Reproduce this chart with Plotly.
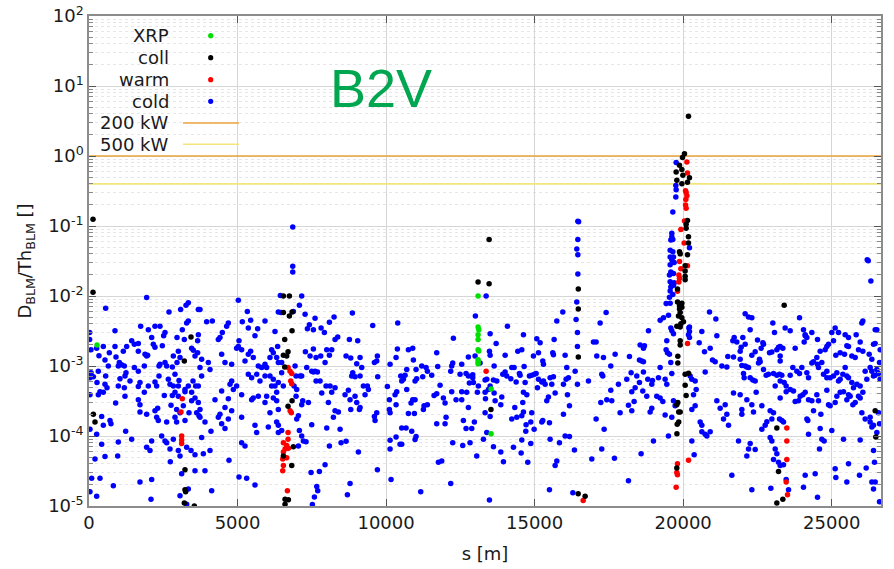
import plotly.graph_objects as go

# ---------------------------------------------------------------------------
# BLM signal over threshold vs. longitudinal position, beam 2 vertical (B2V)
# each entry: (s [m], D_BLM / Th_BLM)
# ---------------------------------------------------------------------------
S_MAX = 26659

cold = [
    # IR1 -> IR2 arc region (0 - 6.6 km)
    (22, 3.0e-3), (22, 2.4e-3), (67, 1.7e-3), (258, 1.8e-3), (336, 1.4e-3), (482, 1.9e-3),
    (684, 1.55e-3), (875, 1.9e-3), (1155, 1.63e-3), (1268, 1.9e-3), (1436, 2.3e-3), (1526, 2.05e-3),
    (1660, 2.1e-3), (1660, 1.63e-3), (1885, 1.47e-3), (1974, 1.43e-3), (2109, 2.55e-3), (2165, 2.05e-3),
    (2221, 1.85e-3), (2468, 1.95e-3), (1941, 9.5e-3), (5026, 8.7e-3), (561, 6.7e-3), (3343, 8.0e-3),
    (3265, 7.4e-3), (3085, 6.4e-3), (3680, 6.4e-3), (3736, 6.4e-3), (2693, 5.9e-3), (5329, 6.0e-3),
    (6440, 1.02e-2), (875, 3.2e-3), (1739, 3.7e-3), (1997, 3.3e-3), (2221, 3.7e-3), (2390, 3.7e-3),
    (2558, 3.0e-3), (2513, 2.7e-3), (3343, 4.4e-3), (3287, 4.1e-3), (3960, 4.3e-3), (4151, 4.4e-3),
    (4690, 4.1e-3), (4634, 3.7e-3), (4488, 3.0e-3), (4409, 2.55e-3), (5441, 4.5e-3), (5161, 4.3e-3),
    (5363, 3.5e-3), (5677, 3.4e-3), (5924, 4.4e-3), (6260, 3.1e-3), (6373, 5.9e-3), (6462, 5.8e-3),
    (3141, 3.3e-3), (2962, 2.55e-3), (3209, 2.4e-3), (3680, 2.8e-3), (3657, 2.3e-3),
    (908, 1.35e-3), (1021, 1.12e-3), (1099, 1.04e-3), (1189, 1.0e-3), (987, 1.0e-3), (538, 1.22e-3),
    (650, 1.0e-3), (314, 8.4e-4), (67, 8.0e-4), (146, 7.0e-4), (33, 6.8e-4), (561, 7.2e-4),
    (269, 5.8e-4), (538, 5.5e-4), (606, 4.9e-4), (370, 4.3e-4), (314, 3.9e-4), (482, 4.2e-4),
    (33, 3.9e-4), (1245, 8.0e-4), (1211, 7.2e-4), (1043, 6.6e-4), (987, 5.2e-4), (1189, 4.9e-4),
    (1211, 3.7e-4), (1380, 6.1e-4), (1526, 9.5e-4), (1660, 8.4e-4), (1862, 1.0e-3), (1941, 1.39e-3),
    (1716, 5.8e-4), (1660, 5.1e-4), (1862, 4.2e-4), (1997, 5.2e-4), (2221, 5.9e-4), (2277, 5.2e-4),
    (2356, 7.2e-4), (2390, 1.06e-3), (2558, 1.12e-3), (2614, 1.0e-3), (2535, 3.8e-4), (2356, 1.0e-3),
    (2838, 1.39e-3), (3007, 1.63e-3), (3063, 1.32e-3), (2962, 1.12e-3), (2805, 9.7e-4), (2894, 7.6e-4),
    (3029, 6.2e-4), (2838, 5.2e-4), (3007, 5.2e-4), (3231, 4.6e-4), (2894, 4.2e-4), (2805, 3.8e-4),
    (3007, 3.7e-4), (2726, 5.5e-4), (2670, 6.45e-4), (3455, 1.8e-3), (3512, 1.68e-3), (3568, 1.39e-3),
    (3657, 1.55e-3), (3792, 1.25e-3), (3736, 9.5e-4), (4016, 1.12e-3), (4073, 8.9e-4), (3792, 7.2e-4),
    (3680, 5.2e-4), (3590, 5.2e-4), (3500, 6.1e-4), (3343, 5.2e-4), (3231, 4.3e-4), (3455, 4.2e-4),
    (3568, 3.5e-4), (3455, 3.2e-4), (3175, 2.7e-4), (2950, 2.4e-4), (3063, 2.15e-4), (2760, 2.75e-4),
    (3680, 3.0e-4), (3736, 2.4e-4), (3624, 2.15e-4), (3702, 1.95e-4), (3904, 1.58e-4), (3736, 1.85e-4),
    (1660, 3.3e-4), (1716, 2.8e-4), (1716, 2.2e-4), (1941, 2.05e-4), (2221, 2.3e-4), (2311, 2.5e-4),
    (2277, 1.85e-4), (2333, 1.67e-4), (2614, 1.58e-4), (2894, 1.85e-4), (2950, 1.58e-4), (3231, 1.67e-4),
    (3366, 2.15e-4), (897, 2.95e-4), (707, 1.67e-4), (740, 1.5e-4), (426, 1.9e-4), (482, 1.43e-4),
    (33, 1.25e-4), (258, 1.06e-4), (1234, 1.17e-4), (2446, 1.0e-4), (2558, 8.5e-5), (2614, 8.0e-5),
    (2838, 9.0e-5), (2726, 6.5e-5), (3007, 6.2e-5), (3063, 5.2e-5), (3287, 6.9e-5), (3433, 6.2e-5),
    (3568, 5.4e-5), (3848, 5.6e-5), (3792, 9.5e-5), (4073, 6.2e-5), (4106, 1.17e-4), (4353, 1.85e-4),
    (4409, 2.05e-4), (4465, 1.5e-4), (4577, 1.28e-4), (4241, 3.3e-4), (4465, 4.4e-4), (4690, 3.4e-4),
    (4577, 2.55e-4), (4802, 2.3e-4), (5138, 3.9e-4), (4970, 5.2e-4), (4858, 4.6e-4), (4746, 5.5e-4),
    (2109, 8.5e-5), (1941, 6.9e-5), (2053, 6.2e-5), (1436, 9.0e-5), (987, 8.2e-5), (426, 7.6e-5),
    (202, 4.7e-5), (538, 5.1e-5), (965, 5.2e-5), (89, 2.5e-5), (370, 2.5e-5), (819, 1.95e-5),
    (33, 1.6e-5), (258, 1.38e-5), (1716, 2.2e-5), (2109, 2.4e-5), (2087, 1.25e-5), (2737, 4.3e-5),
    (3119, 2.9e-5), (3063, 1.4e-5), (3343, 1.75e-5), (4129, 1.65e-5), (3568, 3.2e-5), (3904, 3.2e-5),
    (4712, 4.5e-5), (5049, 2.6e-5), (5307, 2.5e-5), (5587, 2.0e-5), (3287, 1.06e-5),
    (4353, 2.4e-3), (4465, 1.47e-3), (4577, 1.12e-3), (4802, 1.06e-3), (4802, 6.1e-4), (4970, 1.8e-3),
    (5026, 1.9e-3), (5049, 2.3e-3), (5138, 1.7e-3), (5251, 1.18e-3), (5363, 1.47e-3), (5441, 1.63e-3),
    (5531, 1.32e-3), (5587, 2.7e-3), (5699, 1.0e-3), (5812, 9.5e-4), (5924, 1.06e-3), (5980, 9.5e-4),
    (6092, 1.32e-3), (6148, 1.7e-3), (6204, 1.55e-3), (6350, 1.9e-3), (6317, 1.32e-3), (6373, 1.12e-3),
    (6485, 1.12e-3), (5363, 7.6e-4), (5475, 6.8e-4), (5643, 7.6e-4), (5755, 6.1e-4), (5924, 7.2e-4),
    (6092, 7.2e-4), (6204, 6.45e-4), (6260, 5.2e-4), (6373, 5.8e-4), (6148, 5.2e-4), (6317, 4.2e-4),
    (6485, 8.0e-4), (6541, 5.2e-4), (5531, 3.5e-4), (5699, 3.7e-4), (5980, 3.7e-4), (6204, 3.5e-4),
    (6317, 3.2e-4), (6373, 2.4e-4), (6092, 2.15e-4), (5924, 3.0e-4), (5138, 1.85e-4), (4690, 1.75e-4),
    (5475, 3.3e-4), (5587, 1.43e-4), (5643, 1.12e-4), (6036, 1.35e-4), (6317, 1.58e-4), (6373, 1.43e-4),
    (6373, 1.12e-4), (6485, 1.2e-4), (5251, 7.2e-5), (5138, 8.0e-5),
    # IR2 region and arc towards IR3 (6.6 - 13.2 km)
    (6858, 9.7e-2), (6858, 2.65e-2), (6858, 2.2e-2),
    (7160, 1.0e-2), (7082, 7.4e-3), (6880, 6.0e-3), (7273, 5.5e-3), (7351, 3.4e-3), (7553, 3.3e-3),
    (7418, 3.9e-3), (7609, 4.8e-3), (7811, 3.5e-3), (7923, 3.0e-3), (8092, 4.2e-3), (8249, 5.0e-3),
    (8282, 2.4e-3), (8372, 2.6e-3), (8866, 5.7e-3), (8765, 2.4e-3), (9045, 2.3e-3), (9550, 3.8e-3),
    (10392, 4.1e-3), (6936, 1.0e-3), (6970, 7.2e-4), (6902, 5.2e-4), (6992, 4.6e-4), (6970, 3.7e-4),
    (7104, 7.2e-4), (7160, 7.2e-4), (7194, 3.2e-4), (7160, 2.8e-4), (7048, 1.95e-4), (6992, 1.75e-4),
    (7082, 1.2e-4), (7160, 1.0e-4), (7216, 8.5e-5), (7306, 8.3e-5), (7048, 7.2e-5), (7385, 3.0e-4),
    (7497, 1.45e-4), (7329, 9.5e-4), (7497, 8.4e-4), (7553, 8.2e-4), (7609, 8.4e-4), (7688, 8.2e-4),
    (7643, 6.1e-4), (7777, 6.1e-4), (7834, 4.1e-4), (7979, 5.2e-4), (8114, 5.2e-4), (8170, 4.2e-4),
    (8058, 3.0e-4), (8282, 4.9e-4), (8226, 1.85e-4), (8395, 2.2e-4), (8282, 2.3e-4), (8451, 1.25e-4),
    (8002, 1.3e-4), (7284, 1.6e-3), (7441, 1.39e-3), (7553, 1.75e-3), (7643, 1.32e-3), (7800, 1.39e-3),
    (7946, 1.12e-3), (8092, 1.43e-3), (8170, 1.7e-3), (8002, 1.7e-3), (8653, 1.39e-3), (8810, 1.3e-3),
    (9124, 1.32e-3), (9012, 1.08e-3), (9180, 9.5e-4), (8877, 8.0e-4), (8843, 7.2e-4), (8955, 7.0e-4),
    (9124, 7.2e-4), (9236, 5.2e-4), (9371, 5.2e-4), (9404, 4.6e-4), (9292, 3.9e-4), (9606, 1.12e-3),
    (9707, 1.39e-3), (9685, 1.18e-3), (9718, 7.0e-4), (9685, 2.15e-4), (9606, 1.9e-4), (9629, 1.67e-4),
    (8619, 3.9e-4), (8731, 4.5e-4), (8787, 3.3e-4), (8955, 3.7e-4), (9012, 3.0e-4), (9124, 2.55e-4),
    (9101, 2.4e-4), (8810, 2.4e-4), (8484, 8.0e-5), (8653, 8.4e-5), (8092, 7.2e-5), (9068, 5.9e-5),
    (7946, 3.9e-5), (7755, 3.1e-5), (7474, 3.0e-5), (7665, 1.9e-5), (7699, 1.65e-5), (7587, 1.35e-5),
    (7519, 1.05e-5), (8787, 2.1e-5), (8698, 1.45e-5), (9707, 3.3e-5),
    (10044, 5.1e-4), (10134, 1.06e-3), (10111, 3.3e-4), (10302, 3.9e-4), (10358, 4.3e-4), (10336, 2.8e-4),
    (10380, 1.75e-3), (10336, 1.32e-3), (10751, 1.7e-3), (10897, 1.8e-3), (10919, 1.22e-3), (10493, 7.2e-4),
    (10582, 6.45e-4), (10639, 7.4e-4), (10695, 8.9e-4), (10526, 6.1e-4), (10975, 6.1e-4), (11031, 6.6e-4),
    (11009, 8.9e-4), (11200, 1.0e-3), (11345, 9.5e-4), (11390, 8.4e-4), (11233, 7.0e-4), (11536, 7.4e-4),
    (11704, 1.55e-3), (11817, 5.3e-4), (11738, 9.8e-4), (12209, 1.0e-3), (12243, 1.1e-3), (12176, 8.4e-4),
    (12490, 7.6e-4), (12692, 7.8e-4), (12770, 7.2e-4), (12916, 7.5e-4), (12939, 5.8e-4), (12804, 5.7e-4),
    (12546, 1.06e-3), (12770, 1.35e-3), (12995, 1.39e-3), (13163, 1.1e-3), (12265, 2.5e-3), (13006, 5.2e-3),
    (10695, 4.6e-4), (10897, 3.3e-4), (10975, 3.3e-4), (10840, 2.95e-4), (10751, 2.1e-4), (10953, 2.1e-4),
    (11278, 2.7e-4), (11256, 2.4e-4), (11390, 2.8e-4), (11615, 3.8e-4), (11704, 4.0e-4), (11929, 3.5e-4),
    (11985, 2.95e-4), (12209, 4.3e-4), (12355, 3.3e-4), (12546, 3.3e-4), (12546, 4.3e-4), (12714, 4.2e-4),
    (12770, 2.55e-4), (13073, 4.2e-4), (13107, 5.2e-4), (12916, 6.8e-4), (10111, 2.4e-4), (10134, 2.15e-4),
    (10526, 1.3e-4), (10672, 1.3e-4), (10863, 1.17e-4), (11009, 9.8e-5), (10975, 8.9e-5), (10336, 9.7e-5),
    (10470, 7.6e-5), (10526, 7.6e-5), (10134, 8.7e-5), (10134, 6.5e-5), (11761, 4.2e-5), (11873, 4.4e-5),
    (11985, 1.5e-4), (12019, 1.85e-4), (11704, 1.5e-4), (12602, 1.67e-4), (12692, 1.28e-4), (12883, 1.28e-4),
    (12972, 1.58e-4), (13051, 5.2e-5), (12826, 8.0e-5), (12580, 7.3e-5), (12243, 8.0e-5), (12176, 2.1e-5),
    (11166, 1.6e-5), (10167, 2.4e-5),
    # IR3 -> IR5 (13.2 - 19.8 km)
    (13367, 1.0e-2), (13502, 2.9e-3), (13704, 2.1e-3), (13479, 1.63e-3), (13502, 1.43e-3), (13636, 1.0e-3),
    (13333, 6.3e-4), (13389, 6.45e-4), (13614, 6.3e-4), (13726, 6.1e-4), (13502, 5.2e-4), (13446, 4.6e-4),
    (13333, 4.2e-4), (13636, 4.1e-4), (13670, 3.2e-4), (13345, 3.4e-4), (13894, 3.6e-4), (13861, 2.8e-4),
    (13928, 7.6e-4), (14007, 8.2e-4), (14063, 7.2e-4), (14197, 6.6e-4), (14231, 9.5e-4), (14309, 9.5e-4),
    (14377, 5.9e-4), (14489, 7.8e-4), (14511, 7.4e-4), (14646, 9.8e-4), (14680, 5.8e-4), (14624, 4.2e-4),
    (14601, 3.0e-4), (14736, 3.9e-4), (14826, 7.2e-4), (14904, 7.4e-4), (14994, 7.6e-4), (15050, 7.8e-4),
    (15095, 4.9e-4), (15129, 6.45e-4), (15241, 5.9e-4), (15297, 6.1e-4), (15353, 5.5e-4), (15409, 3.2e-4),
    (15465, 3.6e-4), (15521, 6.8e-4), (15577, 5.5e-4), (15633, 7.0e-4), (15690, 4.1e-4), (15656, 2.4e-3),
    (15746, 4.4e-3), (15948, 5.9e-3), (16026, 1.43e-3), (16082, 9.5e-4), (16060, 6.45e-4), (15970, 5.5e-4),
    (16138, 6.8e-4), (16105, 3.9e-4), (16172, 2.7e-4), (15970, 2.05e-4), (16363, 8.4e-4), (16441, 5.5e-4),
    (16396, 4.6e-3), (16441, 3.0e-3), (16441, 1.9e-3), (16419, 8.2e-3), (14085, 3.7e-3), (14624, 2.8e-3),
    (14433, 1.63e-3), (14568, 1.7e-3), (14007, 1.43e-3), (14960, 1.39e-3), (15129, 1.55e-3), (15072, 2.45e-3),
    (15185, 2.15e-3), (15274, 1.18e-3), (15297, 1.06e-3), (15611, 1.55e-3), (15633, 1.45e-3),
    (13333, 2.15e-4), (13502, 1.9e-4), (13389, 1.12e-4), (13277, 9.0e-5), (13614, 7.0e-5), (13861, 5.9e-5),
    (13950, 4.3e-5), (14287, 6.9e-5), (14332, 2.55e-4), (14231, 1.75e-4), (14399, 1.85e-4), (14568, 1.95e-4),
    (14568, 8.8e-5), (14624, 2.2e-4), (14713, 1.45e-4), (14702, 1.17e-4), (14904, 2.15e-4), (14870, 1.58e-4),
    (14983, 1.25e-4), (14870, 7.8e-5), (14769, 4.2e-5), (14545, 5.7e-5), (15241, 1.58e-4), (15274, 1.67e-4),
    (15499, 1.55e-4), (15521, 9.0e-5), (15835, 8.0e-5), (16026, 1.0e-4), (16172, 9.8e-5), (16340, 6.3e-5),
    (15746, 4.4e-5), (15690, 3.8e-5), (15499, 1.7e-5), (13479, 1.22e-5),
    (16455, 1.17e-1), (16480, 1.15e-1), (16455, 6.4e-2), (16420, 4.7e-2), (16455, 3.9e-2), (16455, 2.06e-2),
    (16286, 1.55e-5),
    (16812, 6.1e-4), (16980, 2.2e-3), (17069, 2.2e-3), (17092, 1.39e-3), (17204, 4.1e-3), (17317, 1.32e-3),
    (17406, 5.8e-3), (17260, 7.6e-4), (17294, 7.2e-4), (17227, 3.0e-4), (17069, 1.75e-4), (17339, 1.25e-4),
    (17429, 3.3e-4), (17597, 3.2e-4), (17563, 1.0e-3), (17563, 4.5e-4), (17709, 1.47e-3), (17821, 5.5e-4),
    (17877, 2.15e-4), (18102, 6.45e-4), (18192, 1.37e-3), (18248, 8.0e-4), (18270, 4.3e-4), (18158, 2.75e-4),
    (18270, 2.3e-4), (18349, 3.1e-4), (18383, 4.9e-4), (18438, 7.2e-4), (18528, 1.22e-3), (18663, 1.15e-3),
    (18607, 1.18e-3), (18528, 5.8e-4), (18640, 4.4e-4), (18663, 8.2e-4), (18775, 3.7e-4), (18809, 6.45e-4),
    (18966, 6.2e-4), (18943, 5.5e-4), (18943, 2.5e-4), (18887, 2.2e-4), (19112, 3.7e-4), (19224, 3.5e-4),
    (19168, 6.8e-4), (19224, 9.5e-4), (19392, 6.45e-4), (19314, 3.1e-4), (19392, 2.0e-4), (19448, 5.5e-4),
    (19617, 7.8e-4), (19673, 3.2e-4), (19729, 2.7e-4), (19617, 1.85e-4), (19504, 1.0e-4), (19000, 8.5e-5),
    (18584, 5.6e-5), (18158, 2.3e-5), (17687, 4.8e-5), (16924, 4.7e-5), (17260, 6.5e-5), (18663, 1.8e-3),
    (18551, 2.0e-3), (18696, 1.95e-3), (19426, 1.7e-3), (19471, 1.55e-3), (19538, 1.47e-3), (19583, 1.12e-3),
    (19448, 2.3e-3),
    # IR5 loss spike
    (19764, 8.1e-1), (19753, 3.8e-1), (19764, 3.3e-1), (19753, 2.6e-1), (19652, 1.58e-1), (19618, 7.9e-2),
    (19618, 7.0e-2), (19584, 6.3e-2), (19652, 6.4e-2), (20212, 4.9e-2), (19562, 4.5e-2), (19652, 4.3e-2),
    (19562, 3.6e-2), (19674, 3.6e-2), (19618, 3.3e-2), (19697, 3.0e-2), (19562, 2.8e-2), (19584, 2.2e-2),
    (19674, 2.1e-2), (19539, 2.0e-2), (19562, 1.6e-2), (19697, 1.55e-2), (19618, 1.48e-2), (19584, 1.34e-2),
    (19674, 1.42e-2), (19562, 1.18e-2), (19652, 1.05e-2), (19539, 9.6e-3), (19427, 7.8e-3), (19562, 7.9e-3),
    (19618, 3.2e-3), (19674, 2.9e-3), (19225, 4.5e-3), (19337, 4.9e-3), (18832, 3.2e-3), (20212, 3.6e-3),
    (20212, 3.1e-3), (20178, 2.8e-3), (19584, 3.5e-3), (19506, 5.3e-3),
    # IR5 -> IR1 (19.9 - 26.7 km)
    (20886, 5.9e-3), (21100, 4.7e-3), (22087, 5.6e-3), (22199, 5.0e-3), (22311, 4.9e-3), (22255, 3.3e-3),
    (23018, 4.1e-3), (23074, 3.0e-3), (23433, 3.5e-3), (23602, 3.2e-3), (23916, 4.9e-3), (24050, 3.3e-3),
    (24107, 2.8e-3), (24331, 3.0e-3), (24522, 2.4e-3), (25004, 3.0e-3), (25116, 3.5e-3), (25229, 3.0e-3),
    (25453, 2.8e-3), (25565, 2.55e-3), (26048, 4.4e-3), (26014, 4.1e-3), (25823, 2.8e-3), (26463, 3.3e-3),
    (26519, 3.3e-3), (20191, 3.5e-3), (20213, 2.55e-3), (20628, 3.1e-3), (20539, 2.15e-3), (20718, 1.6e-3),
    (20909, 1.8e-3), (21133, 2.7e-3), (21672, 2.3e-3), (21717, 2.55e-3), (21806, 2.2e-3), (21952, 1.85e-3),
    (21919, 1.63e-3), (22008, 2.55e-3), (22087, 2.05e-3), (22502, 2.35e-3), (22682, 2.15e-3), (22704, 2.05e-3),
    (22625, 1.8e-3), (22424, 1.6e-3), (22311, 1.43e-3), (22569, 1.25e-3), (22906, 1.55e-3), (22985, 1.58e-3),
    (23153, 1.7e-3), (23209, 1.85e-3), (23265, 1.9e-3), (23355, 1.8e-3), (23265, 1.39e-3), (23265, 1.18e-3),
    (23770, 1.8e-3), (24073, 2.2e-3), (24107, 2.7e-3), (24163, 2.55e-3), (24499, 1.32e-3), (24611, 1.63e-3),
    (24780, 1.7e-3), (24836, 1.9e-3), (24892, 2.05e-3), (25060, 2.3e-3), (25139, 1.43e-3), (25285, 1.55e-3),
    (25431, 1.47e-3), (25509, 1.95e-3), (25565, 1.9e-3), (25677, 1.39e-3), (25790, 1.32e-3), (25902, 1.7e-3),
    (25958, 2.2e-3), (26048, 1.63e-3), (26261, 1.47e-3), (26351, 1.25e-3), (26407, 2.05e-3), (26463, 2.1e-3),
    (26631, 1.7e-3), (20236, 7.2e-4), (20292, 6.45e-4), (20404, 6.1e-4), (20438, 4.6e-4), (20348, 3.9e-4),
    (20292, 2.4e-4), (20404, 2.7e-4), (20741, 8.2e-4), (20987, 1.22e-3), (21077, 1.15e-3), (21302, 1.0e-3),
    (21470, 9.7e-4), (21503, 1.37e-3), (21694, 1.35e-3), (21919, 1.25e-3), (21975, 1.02e-3), (22087, 1.0e-3),
    (22143, 9.7e-4), (22199, 9.5e-4), (22031, 7.8e-4), (22053, 6.8e-4), (22255, 6.8e-4), (22345, 6.3e-4),
    (22424, 6.1e-4), (22536, 1.1e-3), (22592, 1.15e-3), (22704, 8.9e-4), (22794, 7.4e-4), (22872, 7.6e-4),
    (23041, 7.8e-4), (23153, 7.4e-4), (23243, 7.6e-4), (23321, 7.4e-4), (23265, 6.1e-4), (23400, 5.8e-4),
    (23467, 5.2e-4), (23602, 7.4e-4), (23691, 9.5e-4), (23826, 8.4e-4), (23916, 7.8e-4), (23994, 9.5e-4),
    (24163, 8.0e-4), (24219, 6.8e-4), (24331, 1.1e-3), (24387, 1.15e-3), (24522, 1.06e-3), (24555, 9.5e-4),
    (24667, 1.12e-3), (24724, 7.6e-4), (24836, 8.4e-4), (24836, 6.8e-4), (24948, 6.8e-4), (25060, 7.2e-4),
    (25172, 8.0e-4), (25229, 6.1e-4), (25285, 6.45e-4), (25374, 7.6e-4), (25453, 9.5e-4), (25509, 7.2e-4),
    (25565, 6.8e-4), (25677, 5.8e-4), (25733, 4.9e-4), (25846, 5.5e-4), (25958, 5.2e-4), (26048, 4.2e-4),
    (26126, 8.4e-4), (26182, 6.45e-4), (26294, 9.5e-4), (26351, 8.4e-4), (26407, 7.2e-4), (26463, 7.4e-4),
    (26519, 8.9e-4), (26575, 7.8e-4), (26609, 1.12e-3), (26631, 6.45e-4), (21133, 3.2e-4), (21245, 2.5e-4),
    (21414, 2.8e-4), (21470, 2.05e-4), (21694, 4.1e-4), (21919, 3.9e-4), (21975, 2.4e-4), (21975, 2.05e-4),
    (22143, 3.3e-4), (22311, 2.8e-4), (22367, 2.2e-4), (22457, 4.2e-4), (22648, 2.7e-4), (22760, 1.43e-4),
    (22816, 1.6e-4), (22928, 2.3e-4), (22985, 1.75e-4), (23041, 2.15e-4), (23097, 5.2e-4), (23265, 3.5e-4),
    (23243, 1.75e-4), (23321, 1.67e-4), (23377, 1.58e-4), (23467, 4.3e-4), (23602, 4.6e-4), (23714, 4.4e-4),
    (23770, 3.1e-4), (23882, 3.2e-4), (23938, 3.7e-4), (24028, 3.9e-4), (24107, 4.2e-4), (24163, 1.75e-4),
    (24196, 1.67e-4), (24219, 3.3e-4), (24331, 3.2e-4), (24387, 2.3e-4), (24499, 3.9e-4), (24555, 3.2e-4),
    (24611, 1.28e-4), (24634, 2.05e-4), (24836, 4.5e-4), (24892, 2.8e-4), (24948, 2.7e-4), (25004, 1.2e-4),
    (25116, 3.0e-4), (25172, 3.7e-4), (25285, 4.2e-4), (25397, 4.3e-4), (25509, 3.3e-4), (25565, 3.9e-4),
    (25621, 3.7e-4), (25711, 2.8e-4), (25790, 3.0e-4), (25902, 3.7e-4), (25958, 3.5e-4), (26014, 2.15e-4),
    (26126, 1.75e-4), (26294, 1.85e-4), (26294, 1.58e-4), (26351, 1.35e-4), (26407, 1.43e-4), (26519, 1.12e-4),
    (26575, 2.15e-4), (26609, 1.5e-4), (20572, 1.58e-4), (20628, 1.43e-4), (20741, 1.06e-4), (20909, 1.15e-4),
    (20797, 1.0e-4), (20628, 1.15e-4), (21358, 1.75e-4), (21526, 1.43e-4), (21863, 8.5e-5), (22255, 7.8e-5),
    (22424, 6.4e-5), (22199, 6.5e-5), (22143, 5.2e-5), (22648, 1.25e-4), (22928, 9.5e-5), (22985, 8.5e-5),
    (23097, 6.5e-5), (23153, 5.6e-5), (23209, 4.2e-5), (23041, 4.6e-5), (23265, 3.8e-5), (23377, 3.9e-5),
    (23467, 2.4e-5), (23546, 1.7e-5), (24219, 1.06e-4), (24589, 6.5e-5), (24667, 9.0e-5), (24746, 8.5e-5),
    (25397, 9.0e-5), (25565, 4.0e-5), (25958, 8.8e-5), (26160, 3.5e-5), (26407, 6.2e-5), (26440, 4.2e-5),
    (20292, 8.5e-5), (20370, 5.4e-5), (21638, 2.75e-5), (22311, 1.7e-5), (22951, 1.8e-5), (24050, 1.85e-5),
    (24107, 2.75e-5), (24443, 2.9e-5), (24522, 1.33e-5), (25116, 3.4e-5), (25139, 2.55e-5), (25509, 2.2e-5),
    (25935, 2.75e-5), (26351, 2.2e-5), (26407, 1.75e-5), (26463, 2.2e-5), (26609, 1.15e-5),
    (26195, 3.3e-2), (26230, 3.2e-2), (26318, 1.64e-2),
]

warm = [
    (3141, 3.4e-4), (3096, 2.2e-4), (3119, 1.0e-4), (3119, 8.8e-5), (3119, 7.8e-5),
    (6700, 9.5e-4), (6768, 8.4e-4), (6824, 7.8e-4), (6790, 6.1e-4), (6824, 5.6e-4), (6768, 2.3e-4),
    (6812, 2.15e-4), (6700, 1.12e-4), (6543, 8.0e-5), (6700, 9.0e-5), (6655, 7.3e-5), (6599, 6.5e-5),
    (6712, 6.7e-5), (6543, 5.9e-5), (6655, 4.9e-5), (6521, 4.7e-5), (6543, 3.8e-5), (6521, 3.2e-5),
    (6678, 1.65e-5),
    (13367, 8.4e-4), (16634, 1.2e-5),
    (20125, 8.2e-1), (20145, 5.7e-1), (20080, 3.2e-1), (20100, 3.0e-1), (20125, 2.7e-1), (20090, 2.4e-1),
    (20080, 2.0e-1), (20100, 1.8e-1), (20044, 1.18e-1), (19922, 8.9e-2), (20032, 5.7e-2), (19876, 3.1e-2),
    (20145, 2.7e-2), (19922, 2.45e-2), (19855, 2.0e-2), (19876, 1.8e-2), (19855, 1.58e-2), (19809, 1.17e-2),
    (20146, 2.1e-3), (20180, 4.5e-5), (19807, 4.0e-5), (19785, 3.0e-5), (19807, 2.8e-5), (19763, 1.85e-5),
    (23489, 1.3e-4), (23489, 8.5e-5), (23489, 4.6e-5), (23467, 2.2e-5), (23512, 1.45e-5),
]

coll = [
    (135, 1.25e-1), (135, 1.13e-2), (146, 2.05e-4), (202, 1.58e-4),
    (3433, 2.6e-3), (3209, 1.18e-3), (3231, 3.3e-5), (3231, 1.7e-5), (3253, 1.6e-5), (3209, 1.1e-5),
    (3545, 1.0e-5),
    (6543, 1.0e-2), (6745, 1.0e-2), (6543, 5.8e-3), (6745, 5.2e-3), (6835, 5.9e-3), (6835, 3.2e-3),
    (6588, 2.4e-3), (6543, 1.43e-3), (6655, 1.39e-3), (6700, 1.6e-3), (6588, 9.7e-4), (6835, 3.2e-4),
    (6700, 2.65e-4), (6880, 7.0e-5), (6543, 5.2e-5), (6824, 3.8e-5), (6599, 1.25e-5), (6712, 1.23e-5),
    (6599, 1.06e-5),
    (13097, 1.58e-2), (13468, 1.5e-2), (13468, 6.4e-2), (13530, 2.4e-4),
    (16470, 1.26e-2), (16470, 6.5e-3), (16470, 1.35e-3), (16466, 1.5e-5), (16700, 1.38e-5),
    (20178, 3.7), (20044, 1.08), (19977, 9.5e-1), (19876, 7.4e-1), (19956, 6.4e-1), (19764, 5.9e-1),
    (19990, 5.3e-1), (20212, 4.9e-1), (19787, 4.5e-1), (20145, 4.2e-1), (19956, 4.0e-1), (20145, 1.2e-1),
    (20100, 1.06e-1), (20100, 9.3e-2), (20178, 7.0e-2), (20178, 5.7e-2), (19876, 4.3e-2), (19900, 4.0e-2),
    (20145, 3.9e-2), (20066, 2.7e-2), (20066, 2.28e-2), (20066, 1.91e-2), (20066, 1.7e-2), (19809, 1.26e-2),
    (19809, 8.2e-3), (19956, 7.9e-3), (19876, 7.2e-3), (19956, 6.9e-3), (19876, 6.5e-3), (19900, 5.8e-3),
    (19843, 5.2e-3), (19956, 4.9e-3), (20010, 4.3e-3), (19922, 4.0e-3), (19787, 3.7e-3), (19900, 3.6e-3),
    (19900, 2.3e-3), (19900, 2.0e-3), (19820, 1.38e-3), (19820, 1.1e-3), (20180, 7.9e-4), (19820, 3.0e-4),
    (19850, 2.2e-4), (19900, 2.2e-4), (19850, 1.58e-4), (19800, 1.47e-4), (19790, 1.08e-4), (19786, 3.5e-5),
    (20067, 7.6e-4), (20067, 5.3e-4), (20100, 3.8e-4), (19786, 2.8e-4),
    (23400, 7.4e-3), (23153, 1.3e-4), (23209, 3.1e-5), (23153, 1.1e-5), (23355, 1.25e-5),
    (26463, 2.3e-4), (26485, 9.7e-5),
]

xrp = [
    (270, 2.0e-3),
    (13097, 1.0e-2), (13097, 3.6e-3), (13120, 3.3e-3), (13097, 2.8e-3), (13097, 2.4e-3), (13097, 1.7e-3),
    (13120, 1.64e-3), (13097, 1.23e-3), (13097, 1.14e-3), (13097, 1.08e-3),
    (13535, 4.7e-4), (13535, 1.08e-4),
]

# loss limits for the assumed beam-loss power
limit_labels = ["200 kW", "500 kW"]
limit_levels = [1.0, 0.4]
limit_colors = ["#EBA53C", "#F3E57A"]

# x axis ticks
s_ticks = [0, 5000, 10000, 15000, 20000, 25000]

# point categories, in legend order
categories = [
    ("XRP", xrp, "#00E000"),
    ("coll", coll, "#000000"),
    ("warm", warm, "#FF0000"),
    ("cold", cold, "#0000FF"),
]

FONT = "DejaVu Sans"
fig = go.Figure()

# horizontal limit lines
for lab, lev, col in zip(limit_labels, limit_levels, limit_colors):
    fig.add_trace(go.Scatter(
        x=[0, S_MAX], y=[lev, lev], mode="lines", name=lab,
        line=dict(color=col, width=1.6), showlegend=False, hoverinfo="skip"))

# scatter points, cold drawn first so the hot spots stay on top
for name, pts, col in reversed(categories):
    s_vals = [p[0] for p in pts]
    r_vals = [p[1] for p in pts]
    fig.add_trace(go.Scatter(
        x=s_vals, y=r_vals, mode="markers", name=name,
        marker=dict(color=col, size=5.5, line=dict(width=0)),
        showlegend=False))

# ----- gnuplot-like key (text right aligned, sample on the right) -----
def px_x(px):
    return (px - 89) / 792.0

def px_y(py):
    return (506 - py) / 490.0

shapes = [
    # opaque key box and label box
    dict(type="rect", xref="paper", yref="paper", x0=px_x(89.5), x1=px_x(250), y0=px_y(154),
         y1=px_y(16.5), fillcolor="white", line=dict(width=0), layer="between"),
    dict(type="rect", xref="paper", yref="paper", x0=px_x(302), x1=px_x(459), y0=px_y(128),
         y1=px_y(45), fillcolor="white", line=dict(width=0), layer="between"),
]
annotations = []
row_y = [35.7, 57.7, 79.7, 101.3, 123.0, 144.3]
key_items = [(n, c, "marker") for n, _, c in categories] + \
            [(l, c, "line") for l, c in zip(limit_labels, limit_colors)]
for (label, col, kind), ry in zip(key_items, row_y):
    annotations.append(dict(
        xref="paper", yref="paper", x=px_x(171), y=px_y(ry), text=label, showarrow=False,
        xanchor="right", yanchor="middle", font=dict(family=FONT, size=18, color="#1a1a1a")))
    if kind == "marker":
        shapes.append(dict(
            type="circle", xref="paper", yref="paper", xsizemode="pixel", ysizemode="pixel",
            xanchor=px_x(210.7), yanchor=px_y(ry), x0=-2.6, x1=2.6, y0=-2.6, y1=2.6,
            fillcolor=col, line=dict(width=0), layer="above"))
    else:
        shapes.append(dict(
            type="line", xref="paper", yref="paper", x0=px_x(183), x1=px_x(239),
            y0=px_y(ry), y1=px_y(ry), line=dict(color=col, width=1.6), layer="above"))

annotations.append(dict(
    xref="paper", yref="paper", x=px_x(381), y=px_y(88), text="B2V", showarrow=False,
    xanchor="center", yanchor="middle",
    font=dict(family="Liberation Sans", size=54, color="#00A650")))

decades = list(range(-5, 3))
minor_vals = [m * 10.0 ** e for e in range(-5, 2) for m in range(2, 10)]

fig.update_layout(
    width=894, height=569,
    margin=dict(l=89, r=13, t=16, b=63, autoexpand=False),
    paper_bgcolor="white", plot_bgcolor="white",
    font=dict(family=FONT, size=18, color="#1a1a1a"),
    showlegend=False,
    shapes=shapes, annotations=annotations,
    xaxis=dict(
        range=[0, S_MAX], tickmode="array", tickvals=s_ticks,
        ticktext=[str(v) for v in s_ticks], automargin=False,
        ticks="inside", ticklen=7, tickcolor="#555555", tickwidth=1,
        showline=True, linecolor="#8c8c8c", linewidth=1.5, mirror="ticks",
        showgrid=True, gridcolor="#d6d6d6", gridwidth=1, zeroline=False,
        title=dict(text="s [m]", font=dict(size=18), standoff=15),
        tickfont=dict(size=18),
    ),
    yaxis=dict(
        type="log", range=[-5, 2], tickmode="array", automargin=False,
        tickvals=[10.0 ** e for e in decades],
        ticktext=["10<sup>%d</sup>" % e for e in decades],
        ticks="inside", ticklen=7, tickcolor="#555555", tickwidth=1,
        showline=True, linecolor="#8c8c8c", linewidth=1.5, mirror="ticks",
        showgrid=True, gridcolor="#d6d6d6", gridwidth=1, zeroline=False,
        minor=dict(tickmode="array", tickvals=minor_vals, ticks="inside", ticklen=4,
                   tickcolor="#888888", showgrid=True, gridcolor="#e6e6e6",
                   griddash="dot", gridwidth=1),
        title=dict(text="D<sub>BLM</sub>/Th<sub>BLM</sub> []", font=dict(size=18), standoff=12),
        tickfont=dict(size=18),
    ),
)

fig.write_html("out.html")
